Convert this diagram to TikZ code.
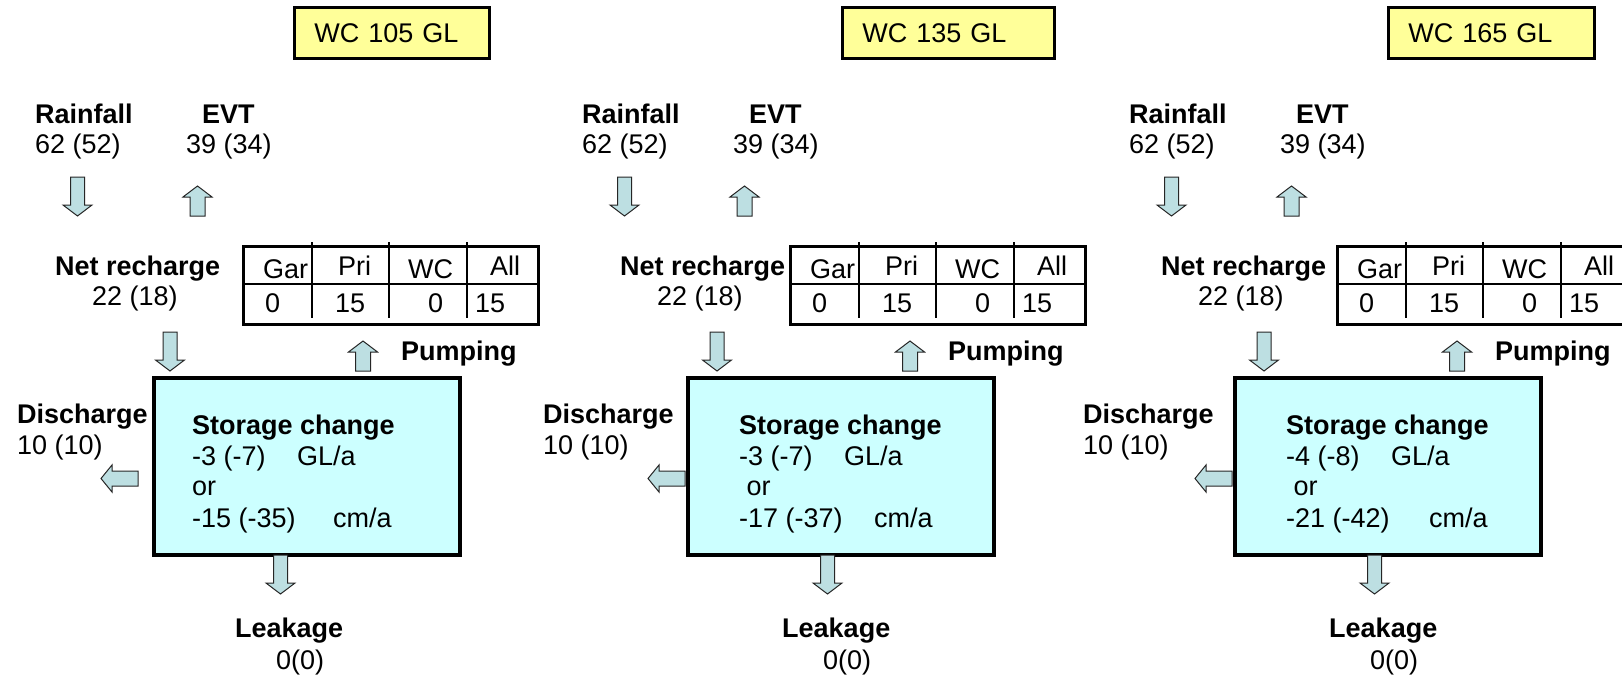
\documentclass[tikz,border=0pt]{standalone}
\usepackage{fontspec}
\setmainfont{Liberation Sans}
\definecolor{arrowfill}{RGB}{189,223,226}
\definecolor{storefill}{RGB}{204,255,255}
\definecolor{wcfill}{RGB}{255,255,153}
\tikzset{
  lbl/.style={anchor=base west, inner sep=0pt, font=\fontsize{27}{31}\selectfont},
  blbl/.style={lbl, font=\fontsize{27}{31}\selectfont\bfseries},
  blockarrow/.style={fill=arrowfill, draw=black!85, line width=1pt, line join=miter},
  wcbox/.style={draw, line width=2.6pt, fill=wcfill, anchor=north west, inner xsep=20pt,
    inner ysep=0pt, minimum height=51, align=left, font=\fontsize{27}{31}\selectfont},
  storebox/.style={draw, line width=3.5pt, fill=storefill, anchor=north west, inner sep=0pt},
  tabbox/.style={draw, line width=2.6pt, anchor=north west, inner sep=0pt},
  tabline/.style={line width=1.8pt},
  downarrow/.pic={\path[blockarrow] (-7,0) -- (7,0) -- (7,28) -- (14.5,28) -- (0,39) -- (-14.5,28) -- (-7,28) -- cycle;},
  uparrow/.pic={\path[blockarrow] (-7.5,0) -- (7.5,0) -- (7.5,-19) -- (14.5,-19) -- (0,-30) -- (-14.5,-19) -- (-7.5,-19) -- cycle;},
  leftarrow/.pic={\path[blockarrow] (0,-7.5) -- (0,7.5) -- (-26,7.5) -- (-26,13.5) -- (-37,0) -- (-26,-13.5) -- (-26,-7.5) -- cycle;}
}
\newcommand\wbpanel[1]{%
\begin{scope}[shift={(\pX,0)}]
 \node[wcbox, text width=\wcTW] (#1wc) at (\wcL,6) {\wcT};
 \node[blbl] (#1rainlbl) at (35,123) {Rainfall};
 \node[lbl] (#1rainval) at (35,153) {62 (52)};
 \node[blbl] (#1evtlbl) at (202,123) {EVT};
 \node[lbl] (#1evtval) at (186,153) {39 (34)};
 \pic at (77.5,177) {downarrow};
 \pic at (197.5,216) {uparrow};
 \node[blbl] (#1nrlbl) at (55+\nrdx,275) {Net recharge};
 \node[lbl] (#1nrval) at (92+\nrdx,305) {22 (18)};
 \node[tabbox, minimum width=295, minimum height=78] (#1tab) at (242,245) {};
 \draw[tabline] (242,284) -- (537,284);
 \foreach \dx in {312,389,467} \draw[tabline] (\dx,242) -- (\dx,318);
 \node[lbl] (#1tgar) at (263,278) {Gar};
 \node[lbl] (#1tpri) at (338,275) {Pri};
 \node[lbl] (#1twc) at (408,278) {WC};
 \node[lbl] (#1tall) at (490,275) {All};
 \node[lbl] (#1vgar) at (265,312) {0};
 \node[lbl] (#1vpri) at (335,312) {15};
 \node[lbl] (#1vwc) at (428,312) {0};
 \node[lbl] (#1vall) at (475,312) {15};
 \pic at (170,332) {downarrow};
 \pic at (363,371) {uparrow};
 \node[blbl] (#1pump) at (401,360) {Pumping};
 \node[storebox, minimum width=306, minimum height=177] (#1store) at (152+\bdx,376) {};
 \node[blbl] (#1dchlbl) at (17+\ddx,423) {Discharge};
 \node[lbl] (#1dchval) at (17+\ddx,454) {10 (10)};
 \pic at (138,478.5) {leftarrow};
 \node[blbl] (#1sa) at (192,434) {Storage change};
 \node[lbl] (#1sb) at (192,465) {\makebox[105pt][l]{\sA}GL/a};
 \node[lbl] (#1sc) at (192,495) {\sB};
 \node[lbl] (#1sd) at (192,527) {\makebox[\cmoff pt][l]{\sC}cm/a};
 \pic at (280.5,555) {downarrow};
 \node[blbl] (#1leaklbl) at (235,637) {Leakage};
 \node[lbl] (#1leakval) at (276,669) {0(0)};
\end{scope}}
\begin{document}
\begin{tikzpicture}[x=1pt,y=-1pt]
\useasboundingbox (0,0) rectangle (1622,677);
\clip (0,0) rectangle (1622,677);
\fill[white] (0,0) rectangle (1622,677);
% panel 1
\def\pX{0}\def\wcL{293}\def\wcTW{155}\def\wcT{WC 105 GL}
\def\nrdx{0}\def\bdx{0}\def\ddx{0}
\def\sA{-3 (-7)}\def\sB{or}\def\sC{-15 (-35)}\def\cmoff{141}
\wbpanel{pa}
% panel 2
\def\pX{547}\def\wcL{294}\def\wcTW{172}\def\wcT{WC 135 GL}
\def\nrdx{18}\def\bdx{-13}\def\ddx{-21}
\def\sA{-3 (-7)}\def\sB{\ or}\def\sC{-17 (-37)}\def\cmoff{135}
\wbpanel{pb}
% panel 3
\def\pX{1094}\def\wcL{293}\def\wcTW{166}\def\wcT{WC 165 GL}
\def\nrdx{12}\def\bdx{-13}\def\ddx{-28}
\def\sA{-4 (-8)}\def\sB{\ or}\def\sC{-21 (-42)}\def\cmoff{143}
\wbpanel{pc}
\end{tikzpicture}
\end{document}
